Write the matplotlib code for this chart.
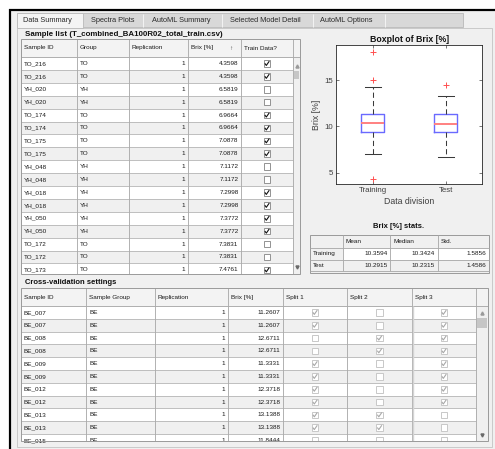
import numpy as np
import matplotlib.pyplot as plt
from matplotlib.patches import Rectangle

# ---- values ----
tab_names = ['Data Summary', 'Spectra Plots', 'AutoML Summary',
             'Selected Model Detail', 'AutoML Options']

sample_title = 'Sample list (T_combined_BA100R02_total_train.csv)'
sample_cols = ['Sample ID', 'Group', 'Replication', 'Brix [%]', 'Train Data?']
sample_id = ['TO_216', 'TO_216', 'YH_020', 'YH_020', 'TO_174', 'TO_174',
             'TO_175', 'TO_175', 'YH_048', 'YH_048', 'YH_018', 'YH_018',
             'YH_050', 'YH_050', 'TO_172', 'TO_172', 'TO_173']
sample_group = ['TO', 'TO', 'YH', 'YH', 'TO', 'TO', 'TO', 'TO', 'YH', 'YH',
                'YH', 'YH', 'YH', 'YH', 'TO', 'TO', 'TO']
sample_rep = [1] * 17
sample_brix = [4.3598, 4.3598, 6.5819, 6.5819, 6.9664, 6.9664, 7.0878, 7.0878,
               7.1172, 7.1172, 7.2998, 7.2998, 7.3772, 7.3772, 7.3831, 7.3831,
               7.4761]
train_flag = [1, 1, 0, 0, 1, 1, 1, 1, 0, 0, 1, 1, 1, 1, 0, 0, 1]

cv_title = 'Cross-validation settings'
cv_cols = ['Sample ID', 'Sample Group', 'Replication', 'Brix [%]',
           'Split 1', 'Split 2', 'Split 3']
cv_id = ['BE_007', 'BE_007', 'BE_008', 'BE_008', 'BE_009', 'BE_009',
         'BE_012', 'BE_012', 'BE_013', 'BE_013', 'BE_015']
cv_group = ['BE'] * 11
cv_rep = [1] * 11
cv_brix = [11.2607, 11.2607, 12.6711, 12.6711, 11.3331, 11.3331,
           12.3718, 12.3718, 13.1388, 13.1388, 11.8444]
split1 = [1, 1, 0, 0, 1, 1, 1, 1, 1, 1, 0]
split2 = [0, 0, 1, 1, 0, 0, 0, 0, 1, 1, 0]
split3 = [1, 1, 1, 1, 1, 1, 1, 1, 0, 0, 0]

stats_title = 'Brix [%] stats.'
stats_cols = ['', 'Mean', 'Median', 'Std.']
stats_rows = ['Training', 'Test']
stats_mean = [10.3594, 10.2915]
stats_median = [10.3424, 10.2315]
stats_std = [1.5856, 1.4586]

box_labels = ['Training', 'Test']
box_q1 = [9.40, 9.38]
box_med = [10.3424, 10.2315]
box_q3 = [11.37, 11.38]
box_lo = [7.00, 6.70]
box_hi = [14.22, 13.24]
box_out = [[18.0, 15.03, 4.3598], [14.45]]

# ---- canvas in pixel units (y down) ----
W, H = 495, 449
PX = 0.72  # one pixel in points
FONT = ['Liberation Sans', 'DejaVu Sans']
FS = 4.6
TXT = '#1a1a1a'

fig = plt.figure(figsize=(W / 100, H / 100), dpi=100)
fig.patch.set_facecolor('white')
ui = fig.add_axes([0, 0, 1, 1])
ui.set_xlim(0, W)
ui.set_ylim(H, 0)
ui.set_axis_off()


def rect(x0, y0, x1, y1, fc='none', ec='none', lw=1, z=1, clip=None):
    p = Rectangle((x0, y0), x1 - x0, y1 - y0, facecolor=fc, edgecolor=ec,
                  lw=lw * PX, zorder=z)
    ui.add_patch(p)
    if clip is not None:
        p.set_clip_path(clip)
    return p


def line(xs, ys, c, lw=1, z=2, clip=None):
    l, = ui.plot(xs, ys, color=c, lw=lw * PX, zorder=z, solid_capstyle='butt')
    if clip is not None:
        l.set_clip_path(clip)
    return l


def text(x, y, s, ha='left', size=FS, weight='normal', c=TXT, clip=None, z=4):
    t = ui.text(x, y, s, ha=ha, va='center', fontsize=size, fontweight=weight,
                color=c, family=FONT, zorder=z)
    if clip is not None:
        t.set_clip_path(clip)
    return t


def checkbox(cx, cy, on, ec, tick, clip=None, s=6.6):
    rect(cx - s / 2, cy - s / 2, cx + s / 2, cy + s / 2, fc='white', ec=ec,
         lw=0.9, z=3, clip=clip)
    if on:
        line([cx - 2.2, cx - 0.7, cx + 2.3], [cy - 0.1, cy + 2.0, cy - 2.3],
             tick, lw=1.1, z=4, clip=clip)


def scroll_arrows(x0, x1, y_up, y_dn, thumb):
    cx = (x0 + x1) / 2
    ui.plot([cx], [y_up], marker='^', ms=2.2, color='#9a9a9a', zorder=5)
    ui.plot([cx], [y_dn], marker='v', ms=2.2, color='#6a6a6a', zorder=5)
    rect(x0 + 0.6, thumb[0], x1 - 1.2, thumb[1], fc='#c6c6c6', z=4)


def table(edges, top, head_h, row_h, bottom, headers, columns, kinds,
          chk_ec, chk_tick):
    clip = Rectangle((edges[0], top), edges[-1] - edges[0], bottom - top,
                     transform=ui.transData)
    n_data = len(columns)
    x_data = edges[n_data]
    rect(edges[0], top, edges[-1], bottom, fc='#f0f0f0', z=1)
    rect(edges[0], top, edges[-1], top + head_h, fc='#f3f3f3', z=1)
    nrow = len(columns[0])
    for i in range(nrow):
        y0 = top + head_h + i * row_h
        fc = 'white' if i % 2 == 0 else '#f0f0f0'
        rect(edges[0], y0, x_data, y0 + row_h, fc=fc, z=1.5, clip=clip)
        line([edges[0], x_data], [y0 + row_h] * 2, '#b9b9b9', lw=0.9,
             clip=clip)
    line([edges[0], edges[-1]], [top + head_h] * 2, '#a8a8a8', lw=0.9)
    for j, x in enumerate(edges[1:-1]):
        line([x, x], [top, bottom], '#ababab', lw=0.9)
    for j, h in enumerate(headers):
        text(edges[j] + 3, top + head_h / 2, h)
    for j, col in enumerate(columns):
        for i, v in enumerate(col):
            cy = top + head_h + (i + 0.5) * row_h
            if kinds[j] == 'l':
                text(edges[j] + 3, cy, v, clip=clip)
            elif kinds[j] == 'r':
                text(edges[j + 1] - 2.5, cy, v, ha='right', clip=clip)
            else:
                checkbox((edges[j] + edges[j + 1]) / 2, cy, v, chk_ec,
                         chk_tick, clip=clip)
    rect(edges[0], top, edges[-1], bottom, ec='#9c9c9c', lw=1, z=6)


# window frame and tab strip
rect(11, 11, W, H, fc='#f0f0f0', z=0)
line([9.6, 9.6], [9, H], 'black', lw=2.2, z=8)
line([9, W], [9.6, 9.6], 'black', lw=2.2, z=8)
rect(16.7, 12.7, 463, 27.5, fc='#d8d8d8', ec='#bcbcbc', lw=0.9, z=1)
rect(16.7, 27.5, 492, 447, fc='#f0f0f0', ec='#c6c6c6', lw=0.9, z=0.5)
rect(16.7, 12.7, 83, 28.2, fc='#f4f4f4', ec='#bcbcbc', lw=0.9, z=1.2)
for x in [143, 222, 313, 385]:
    line([x, x], [13.5, 27], '#f2f2f2', lw=1)
for x, name in zip([23, 91, 152, 230, 320], tab_names):
    text(x, 20.2, name, size=5.3, c='#2a2a2a')

# sample list table
text(25, 34, sample_title, size=5.7, weight='bold', c='#111111')
table([21, 77, 129, 188, 241, 293, 300], 39, 18, 12.9, 274,
      sample_cols + [''],
      [sample_id, sample_group, [str(r) for r in sample_rep],
       ['%.4f' % b for b in sample_brix], train_flag],
      ['l', 'l', 'r', 'r', 'c'], '#8a8a8a', '#101010')
text(229, 48, '\u2191', size=4.6, c='#444444')
scroll_arrows(293, 300, 65.7, 267, (70.7, 79.5))

# cross-validation table
text(25, 282, cv_title, size=5.5, weight='bold', c='#111111')
table([21, 86, 155, 228, 283, 347, 412, 476, 488], 288, 18, 12.8, 441,
      cv_cols + [''],
      [cv_id, cv_group, [str(r) for r in cv_rep],
       ['%.4f' % b for b in cv_brix], split1, split2, split3],
      ['l', 'l', 'r', 'r', 'c', 'c', 'c'], '#c4c4c4', '#a8a8a8')
line([413.2, 413.2], [306, 441], '#d4d4d4', lw=1.4)
scroll_arrows(476, 488, 313.3, 435, (318.3, 328.3))

# stats table
text(399, 227, stats_title, ha='center', size=5.5, weight='bold', c='#111111')
s_edges = [310, 343, 390, 437.5, 488.5]
s_top, s_hh, s_rh = 235, 13, 11.5
rect(s_edges[0], s_top, s_edges[-1], s_top + s_hh + 2 * s_rh + 2,
     fc='#f0f0f0', ec='#9c9c9c', lw=1, z=1)
for j, h in enumerate(stats_cols):
    text(s_edges[j] + 3, s_top + s_hh / 2, h)
for i, name in enumerate(stats_rows):
    y0 = s_top + s_hh + i * s_rh
    fc = 'white' if i % 2 == 0 else '#f0f0f0'
    rect(s_edges[1], y0, s_edges[-1], y0 + s_rh, fc=fc, z=1.5)
    line([s_edges[0], s_edges[-1]], [y0, y0], '#ababab', lw=0.9)
    text(s_edges[0] + 3, y0 + s_rh / 2, name)
    for j, v in enumerate([stats_mean[i], stats_median[i], stats_std[i]]):
        text(s_edges[j + 2] - 2.5, y0 + s_rh / 2, '%.4f' % v, ha='right')
line([s_edges[0], s_edges[-1]], [s_top + s_hh + 2 * s_rh] * 2, '#ababab',
     lw=0.9)
for x in s_edges[1:-1]:
    line([x, x], [s_top, s_top + s_hh + 2 * s_rh], '#ababab', lw=0.9)

# boxplot
bx = fig.add_axes([336 / W, 1 - 184 / H, (482.3 - 336) / W, (184 - 45) / H])
bx.set_facecolor('white')
stats = [dict(label=box_labels[k], q1=box_q1[k], med=box_med[k],
              q3=box_q3[k], whislo=box_lo[k], whishi=box_hi[k],
              fliers=box_out[k]) for k in range(len(box_labels))]
bx.bxp(stats, widths=0.32, capwidths=0.22,
       boxprops=dict(color='#6a6aff', lw=1.0),
       medianprops=dict(color='#ff8080', lw=1.4),
       whiskerprops=dict(color='#3a3a3a', lw=0.75, ls=(0, (5, 3))),
       capprops=dict(color='#3a3a3a', lw=0.75),
       flierprops=dict(marker='+', markeredgecolor='#ff5050', ms=4.5,
                       mew=0.7, ls='none'))
bx.set_xlim(0.5, 2.5)
bx.set_ylim(3.78, 18.78)
bx.set_yticks([5, 10, 15])
bx.tick_params(direction='in', length=2.5, width=0.5, colors='#404040',
               labelsize=5.7, pad=2.4, top=True, right=True)
for s in bx.spines.values():
    s.set_color('#262626')
    s.set_linewidth(0.6)
for t in bx.get_xticklabels() + bx.get_yticklabels():
    t.set_family(FONT)
bx.set_title('Boxplot of Brix [%]', fontsize=6.3, fontweight='bold',
             family=FONT, pad=2.5, color='#111111')
bx.set_ylabel('Brix [%]', fontsize=6.3, family=FONT, color='#404040',
              labelpad=2)
bx.set_xlabel('Data division', fontsize=6.3, family=FONT, color='#404040',
              labelpad=2)

fig.savefig('out.png', dpi=100)
